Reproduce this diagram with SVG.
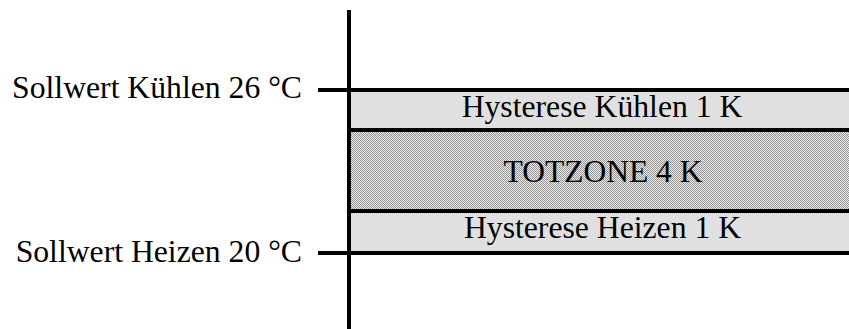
<svg xmlns="http://www.w3.org/2000/svg" width="849" height="329" viewBox="0 0 849 329">
<style>
.lbl{font-family:"Liberation Serif","Times New Roman",serif;font-size:31.7px;fill:#000}
.band{fill:#e0e0e0}
.ln{stroke:#000;stroke-width:4;fill:none}
</style>
<defs>
<pattern id="hatch" width="4" height="4" patternUnits="userSpaceOnUse">
<rect width="4" height="4" fill="#ececec"/>
<rect x="0" y="0" width="1" height="1" fill="#8c8c8c"/>
<rect x="2" y="0" width="1" height="1" fill="#a0a0a0"/>
<rect x="1" y="1" width="1" height="1" fill="#8c8c8c"/>
<rect x="3" y="1" width="1" height="1" fill="#999"/>
<rect x="0" y="2" width="1" height="1" fill="#a0a0a0"/>
<rect x="2" y="2" width="1" height="1" fill="#8c8c8c"/>
<rect x="3" y="3" width="1" height="1" fill="#8c8c8c"/>
<rect x="1" y="3" width="1" height="1" fill="#999"/>
</pattern>
</defs>
<rect width="849" height="329" fill="#fff"/>
<g id="hyst-kuehlen">
<rect class="band" x="351" y="92" width="498" height="36"/>
<text class="lbl" x="602" y="117" text-anchor="middle">Hysterese Kühlen 1 K</text>
</g>
<g id="totzone">
<rect x="351" y="132" width="498" height="77" fill="url(#hatch)" shape-rendering="crispEdges"/>
<text class="lbl" x="603" y="181.5" text-anchor="middle" textLength="199" lengthAdjust="spacingAndGlyphs">TOTZONE 4 K</text>
</g>
<g id="hyst-heizen">
<rect class="band" x="351" y="213" width="498" height="38"/>
<text class="lbl" x="602.5" y="237.5" text-anchor="middle">Hysterese Heizen 1 K</text>
</g>
<g id="connectors" shape-rendering="crispEdges">
<line class="ln" x1="349" y1="10" x2="349" y2="329"/>
<line class="ln" x1="318" y1="90" x2="849" y2="90"/>
<line class="ln" x1="349" y1="130" x2="849" y2="130"/>
<line class="ln" x1="349" y1="211" x2="849" y2="211"/>
<line class="ln" x1="318" y1="252.5" x2="849" y2="252.5"/>
</g>
<g id="sollwert-kuehlen">
<text class="lbl" x="302" y="98.3" text-anchor="end">Sollwert Kühlen 26 °C</text>
</g>
<g id="sollwert-heizen">
<text class="lbl" x="302" y="261.7" text-anchor="end">Sollwert Heizen 20 °C</text>
</g>
</svg>
